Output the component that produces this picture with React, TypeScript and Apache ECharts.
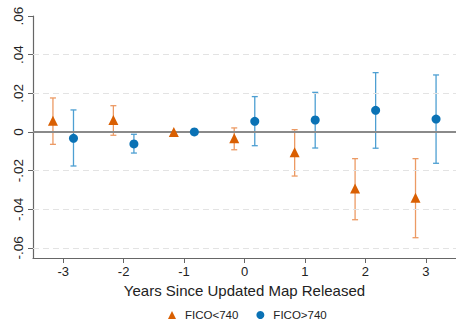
import React, { useEffect, useRef } from "react";
import * as echarts from "echarts";

const years = [-3, -2, -1, 0, 1, 2, 3];
const lowEst = [0.0058, 0.0062, 0.0, -0.0033, -0.0105, -0.0293, -0.034];
const lowUpper = [0.0176, 0.0136, 0.0, 0.0021, 0.0012, -0.0138, -0.0138];
const lowLower = [-0.0064, -0.0017, 0.0, -0.0092, -0.0228, -0.0454, -0.0547];
const highEst = [-0.0033, -0.0062, 0.0, 0.0055, 0.0062, 0.0112, 0.0067];
const highUpper = [0.0114, -0.0012, 0.0, 0.0183, 0.0205, 0.0307, 0.0295];
const highLower = [-0.0176, -0.0109, 0.0, -0.0071, -0.0083, -0.0084, -0.0162];
const yTickValues = [-0.06, -0.04, -0.02, 0, 0.02, 0.04, 0.06];
const yTickLabels = ["-.06", "-.04", "-.02", "0", ".02", ".04", ".06"];
const gridLineValues = [-0.06, -0.04, -0.02, 0.02, 0.04];
const seriesNames = ["FICO<740", "FICO>740"];

const ORANGE = "#d95f02";
const BLUE = "#0a72b5";
const ORANGE_BAR = "#ec9a64";
const BLUE_BAR = "#4d9fd2";
const OFFSET = 0.17;

function errorSeries(xs: number[], lo: number[], hi: number[], color: string) {
  return {
    type: "custom",
    silent: true,
    z: 3,
    data: xs.map((x, i) => [x, lo[i], hi[i]]),
    renderItem: (params: any, api: any) => {
      const x = api.value(0);
      const p1 = api.coord([x, api.value(1)]);
      const p2 = api.coord([x, api.value(2)]);
      const cw = 3;
      const st = { stroke: color, lineWidth: 1.3 };
      return {
        type: "group",
        children: [
          { type: "line", shape: { x1: p1[0], y1: p1[1], x2: p2[0], y2: p2[1] }, style: st },
          { type: "line", shape: { x1: p1[0] - cw, y1: p1[1], x2: p1[0] + cw, y2: p1[1] }, style: st },
          { type: "line", shape: { x1: p2[0] - cw, y1: p2[1], x2: p2[0] + cw, y2: p2[1] }, style: st },
        ],
      };
    },
  };
}

export default function App() {
  const ref = useRef<HTMLDivElement>(null);
  useEffect(() => {
    const chart = echarts.init(ref.current!, null, { renderer: "svg" });
    const xLow = years.map((y) => y - OFFSET);
    const xHigh = years.map((y) => y + OFFSET);
    chart.setOption({
      animation: false,
      textStyle: { fontFamily: "Liberation Sans, Arial, sans-serif" },
      grid: { left: 33, right: -2, top: 16, bottom: 64 },
      legend: {
        top: 304,
        left: 163,
        itemWidth: 8,
        itemHeight: 8,
        itemGap: 18,
        textStyle: { fontSize: 11.5, color: "#222", padding: [0, 0, 0, 4], fontFamily: "Liberation Sans, Arial, sans-serif" },
        data: [
          { name: seriesNames[0], icon: "triangle" },
          { name: seriesNames[1], icon: "circle" },
        ],
      },
      xAxis: {
        type: "value",
        min: -3.5,
        max: 3.5,
        name: "Years Since Updated Map Released",
        nameLocation: "middle",
        nameGap: 25,
        nameTextStyle: { fontSize: 15, color: "#222" },
        axisLine: { show: true, onZero: false, lineStyle: { color: "#666", width: 1.2 } },
        axisTick: { show: true, length: 5, lineStyle: { color: "#666" }, customValues: years },
        axisLabel: { fontSize: 13, color: "#222", margin: 7, customValues: years, formatter: (v: number) => String(v) },
        splitLine: { show: false },
      },
      yAxis: {
        type: "value",
        min: -0.0652,
        max: 0.06,
        axisLine: { show: true, onZero: false, lineStyle: { color: "#666", width: 1.2 } },
        axisTick: { show: true, length: 5, lineStyle: { color: "#666" }, customValues: yTickValues },
        axisLabel: {
          fontSize: 13.5,
          color: "#222",
          rotate: 90,
          margin: 8,
          customValues: yTickValues,
          formatter: (v: number) => {
            const i = yTickValues.findIndex((t) => Math.abs(t - v) < 1e-6);
            return i >= 0 ? yTickLabels[i] : "";
          },
        },
        splitLine: { show: false },
      },
      series: [
        {
          type: "line",
          data: [],
          silent: true,
          markLine: {
            silent: true,
            symbol: "none",
            label: { show: false },
            lineStyle: { color: "#e3e3e3", type: [6, 4], width: 1.2 },
            data: gridLineValues.map((v) => ({ yAxis: v })),
          },
        },
        {
          type: "line",
          data: [],
          silent: true,
          z: 2,
          markLine: {
            silent: true,
            symbol: "none",
            label: { show: false },
            lineStyle: { color: "#8a8a8a", type: "solid", width: 1.8 },
            data: [{ yAxis: 0 }],
          },
        },
        errorSeries(xLow, lowLower, lowUpper, ORANGE_BAR),
        errorSeries(xHigh, highLower, highUpper, BLUE_BAR),
        {
          name: seriesNames[0],
          type: "scatter",
          symbol: "triangle",
          symbolSize: 10,
          z: 5,
          itemStyle: { color: ORANGE, opacity: 1 },
          data: xLow.map((x, i) => [x, lowEst[i]]),
        },
        {
          name: seriesNames[1],
          type: "scatter",
          symbol: "circle",
          symbolSize: 9,
          z: 5,
          itemStyle: { color: BLUE, opacity: 1 },
          data: xHigh.map((x, i) => [x, highEst[i]]),
        },
      ],
    });
    return () => chart.dispose();
  }, []);
  return <div ref={ref} style={{ width: 456, height: 322, position: "absolute", left: 0, top: 0 }} />;
}
